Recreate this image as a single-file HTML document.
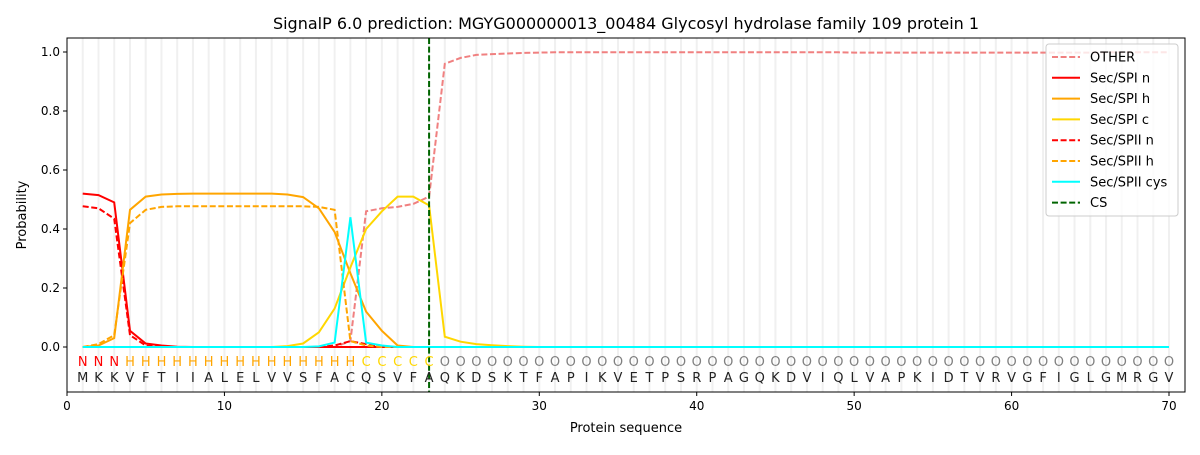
<!DOCTYPE html><html><head><meta charset="utf-8"><style>body{margin:0;background:#fff}svg{font-family:"DejaVu Sans","Liberation Sans",sans-serif}</style></head><body>
<svg id="s" width="1200" height="450" xmlns="http://www.w3.org/2000/svg"></svg>
<script>
const X=i=>67+15.743*i, Y=p=>347-295*p;
let h='';
for(let i=1;i<=70;i++)h+=`<line x1="${X(i)}" y1="38" x2="${X(i)}" y2="392" stroke="#f0f0f0" stroke-width="2"/>`;
function arr(m,def=0){let a=[];for(let i=1;i<=70;i++)a.push(m[i]!==undefined?m[i]:def);return a;}
const other=arr({18:0.02,19:0.46,20:0.47,21:0.475,22:0.485,23:0.51,24:0.96,25:0.98,26:0.99,27:0.993,28:0.995,29:0.997,30:0.998},0);
for(let i=31;i<=70;i++)other[i-1]=i<50?0.999:(i<66?0.998:0.999);
for(let i=1;i<=17;i++)other[i-1]=0;
const n1=arr({1:0.52,2:0.515,3:0.49,4:0.055,5:0.012,6:0.005,7:0.001});
const h1=arr({2:0.005,3:0.03,4:0.465,5:0.51,6:0.517,7:0.519,8:0.52,9:0.52,10:0.52,11:0.52,12:0.52,13:0.52,14:0.517,15:0.508,16:0.47,17:0.39,18:0.25,19:0.12,20:0.055,21:0.005});
const c1=arr({14:0.003,15:0.012,16:0.05,17:0.13,18:0.27,19:0.4,20:0.46,21:0.51,22:0.51,23:0.48,24:0.035,25:0.018,26:0.01,27:0.006,28:0.003,29:0.001});
const n2=arr({1:0.477,2:0.47,3:0.435,4:0.04,5:0.005,17:0.005,18:0.02,19:0.01});
const h2=arr({2:0.01,3:0.04,4:0.42,5:0.465,6:0.475,7:0.477,8:0.477,9:0.477,10:0.477,11:0.477,12:0.477,13:0.477,14:0.477,15:0.477,16:0.475,17:0.465,18:0.02,19:0.005});
const cy=arr({16:0.002,17:0.015,18:0.44,19:0.015,20:0.005});
function line(a,c,d){return `<polyline fill="none" stroke="${c}" stroke-width="2" ${d?'stroke-dasharray="6,2.6"':''} points="${a.map((p,i)=>X(i+1).toFixed(1)+','+Y(p).toFixed(1)).join(' ')}"/>`;}
h+=line(other,'#f08080',1)+line(n1,'#ff0000')+line(h1,'#ffa500')+line(c1,'#ffd700')+line(n2,'#ff0000',1)+line(h2,'#ffa500',1)+line(cy,'#00ffff');
h+=`<line x1="${X(23)}" y1="38" x2="${X(23)}" y2="392" stroke="#006400" stroke-width="2" stroke-dasharray="6,2.6"/>`;
const seq="MKKVFTIIALELVVSFACQSVFAQKDSKTFAPIKVETPSRPAGQKDVIQLVAPKIDTVRVGFIGLGMRGV";
for(let i=1;i<=70;i++){let l,c;if(i<=3){l='N';c='#ff0000'}else if(i<=18){l='H';c='#ffa500'}else if(i<=23){l='C';c='#ffd700'}else{l='O';c='#808080'}
h+=`<text x="${X(i)}" y="366" font-size="13" fill="${c}" text-anchor="middle">${l}</text><text x="${X(i)}" y="382" font-size="13" fill="#222" text-anchor="middle">${seq[i-1]}</text>`;}
h+=`<rect x="67" y="38" width="1118" height="354" fill="none" stroke="#000" stroke-width="1"/>`;
for(let t=0;t<=70;t+=10)h+=`<line x1="${X(t)}" y1="392" x2="${X(t)}" y2="396" stroke="#000"/><text x="${X(t)}" y="410" font-size="12" text-anchor="middle">${t}</text>`;
for(let k=0;k<=5;k++){let p=k*0.2;h+=`<line x1="63" y1="${Y(p)}" x2="67" y2="${Y(p)}" stroke="#000"/><text x="60" y="${Y(p)+4}" font-size="12" text-anchor="end">${p.toFixed(1)}</text>`;}
h+=`<text x="626" y="432" font-size="13" text-anchor="middle">Protein sequence</text>`;
h+=`<text x="26" y="215" font-size="13" text-anchor="middle" transform="rotate(-90 26 215)">Probability</text>`;
h+=`<text x="626" y="29" font-size="16" text-anchor="middle">SignalP 6.0 prediction: MGYG000000013_00484 Glycosyl hydrolase family 109 protein 1</text>`;
h+=`<rect x="1046" y="44" width="132" height="172" rx="3" fill="#fff" fill-opacity="0.8" stroke="#ccc"/>`;
const lg=[['OTHER','#f08080',1],['Sec/SPI n','#ff0000'],['Sec/SPI h','#ffa500'],['Sec/SPI c','#ffd700'],['Sec/SPII n','#ff0000',1],['Sec/SPII h','#ffa500',1],['Sec/SPII cys','#00ffff'],['CS','#006400',1]];
lg.forEach((e,i)=>{let y=57+i*20.8;h+=`<line x1="1052" y1="${y}" x2="1080" y2="${y}" stroke="${e[1]}" stroke-width="2" ${e[2]?'stroke-dasharray="6,2.6"':''}/><text x="1090" y="${y+4.5}" font-size="13">${e[0]}</text>`;});
document.getElementById('s').innerHTML=h;
</script></body></html>
